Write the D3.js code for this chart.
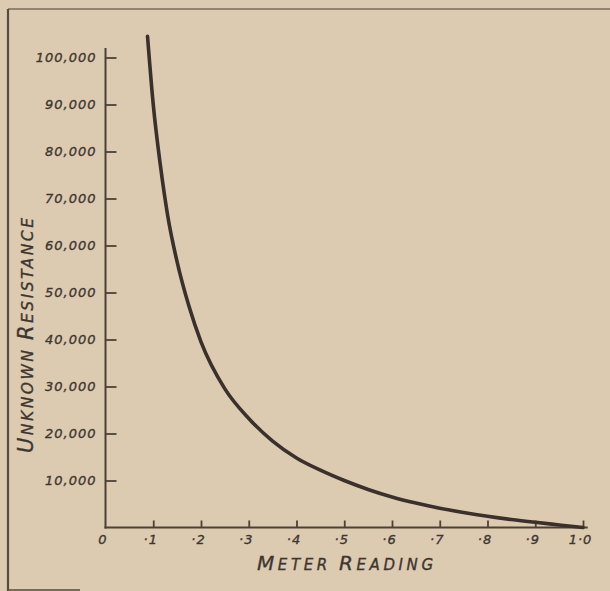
<!DOCTYPE html>
<html>
<head>
<meta charset="utf-8">
<script src="https://cdn.jsdelivr.net/npm/d3@7"></script>
<style>
  body { margin: 0; background: #ddcbb1; }
  svg { display: block; }
  .lbl { font-family: "DejaVu Sans", sans-serif; font-style: italic; fill: #3d3630; stroke: #3d3630; stroke-width: 0.35; }
</style>
</head>
<body>
<script>
// readings
var meterReading = [0.088, 0.1, 0.115, 0.13, 0.15, 0.175, 0.2, 0.25, 0.3, 0.35, 0.4, 0.45, 0.5, 0.55, 0.6, 0.65, 0.7, 0.75, 0.8, 0.85, 0.9, 0.95, 1.0];
var resistance   = [104500, 90000, 77000, 66500, 56500, 47000, 39500, 29500, 23200, 18400, 14800, 12200, 10000, 8100, 6500, 5200, 4100, 3200, 2400, 1700, 1100, 550, 0];

var yTicks = [10000, 20000, 30000, 40000, 50000, 60000, 70000, 80000, 90000, 100000];
var xTicks = [0, 0.1, 0.2, 0.3, 0.4, 0.5, 0.6, 0.7, 0.8, 0.9, 1.0];
var xTickLabels = ["0", "\u00b71", "\u00b72", "\u00b73", "\u00b74", "\u00b75", "\u00b76", "\u00b77", "\u00b78", "\u00b79", "1\u00b70"];

var W = 610, H = 591;
var ink = "#4a4238";

var svg = d3.select("body").append("svg")
    .attr("width", W)
    .attr("height", H);

// paper frame
svg.append("line").attr("x1", 8).attr("y1", 9).attr("x2", W).attr("y2", 9)
    .attr("stroke", "#7a6b5c").attr("stroke-width", 1.6);
svg.append("line").attr("x1", 8).attr("y1", 9).attr("x2", 8).attr("y2", H)
    .attr("stroke", "#564c3e").attr("stroke-width", 2.2);
svg.append("line").attr("x1", 8).attr("y1", 590).attr("x2", 80).attr("y2", 590)
    .attr("stroke", "#564c3e").attr("stroke-width", 1.6);

var x = d3.scaleLinear().domain([0, 1]).range([105.5, 583]);
var y = d3.scaleLinear().domain([0, 100000]).range([527.5, 57.5]);

// axis lines
svg.append("line")
    .attr("x1", x(0)).attr("x2", x(0))
    .attr("y1", y(0) + 1).attr("y2", y(102000))
    .attr("stroke", ink).attr("stroke-width", 2);
svg.append("line")
    .attr("x1", x(0) - 1).attr("x2", x(1.01))
    .attr("y1", y(0)).attr("y2", y(0))
    .attr("stroke", ink).attr("stroke-width", 2);

var yAxis = svg.append("g")
    .attr("transform", "translate(" + x(0) + ",0)")
    .call(d3.axisLeft(y).tickValues(yTicks)
        .tickFormat(d3.format(","))
        .tickSizeInner(-11).tickSizeOuter(0).tickPadding(9));

var xAxis = svg.append("g")
    .attr("transform", "translate(0," + y(0) + ")")
    .call(d3.axisBottom(x).tickValues(xTicks)
        .tickFormat(function(d, i) { return xTickLabels[i]; })
        .tickSizeInner(-7).tickSizeOuter(0).tickPadding(7));

[yAxis, xAxis].forEach(function(g) {
    g.select(".domain").remove();
    g.selectAll(".tick line").attr("stroke", ink).attr("stroke-width", 1.8);
    g.selectAll(".tick text")
        .attr("class", "lbl")
        .attr("font-size", 13)
        .attr("letter-spacing", 1);
});
xAxis.selectAll(".tick line").filter(function(d) { return d === 0; }).remove();
xAxis.selectAll(".tick text").attr("dx", -3);

// the curve
var pts = meterReading.map(function(v, i) { return [v, resistance[i]]; });
svg.append("path")
    .datum(pts)
    .attr("fill", "none")
    .attr("stroke", "#3a312c")
    .attr("stroke-width", 3.6)
    .attr("stroke-linecap", "round")
    .attr("d", d3.line()
        .x(function(d) { return x(d[0]); })
        .y(function(d) { return y(d[1]); })
        .curve(d3.curveMonotoneX));

// hand lettered titles, large initial caps + small caps
function caps(sel, parts) {
    parts.forEach(function(p) {
        sel.append("tspan").attr("font-size", p[1]).text(p[0]);
    });
}

var xt = svg.append("text").attr("class", "lbl")
    .attr("x", 257).attr("y", 570)
    .attr("textLength", 176).attr("lengthAdjust", "spacing");
caps(xt, [["M", 20], ["ETER ", 15], ["R", 20], ["EADING", 15]]);

var yt = svg.append("text").attr("class", "lbl")
    .attr("transform", "translate(33,453) rotate(-90)")
    .attr("textLength", 235).attr("lengthAdjust", "spacing");
caps(yt, [["U", 21], ["NKNOWN ", 15.5], ["R", 21], ["ESISTANCE", 15.5]]);
</script>
</body>
</html>
